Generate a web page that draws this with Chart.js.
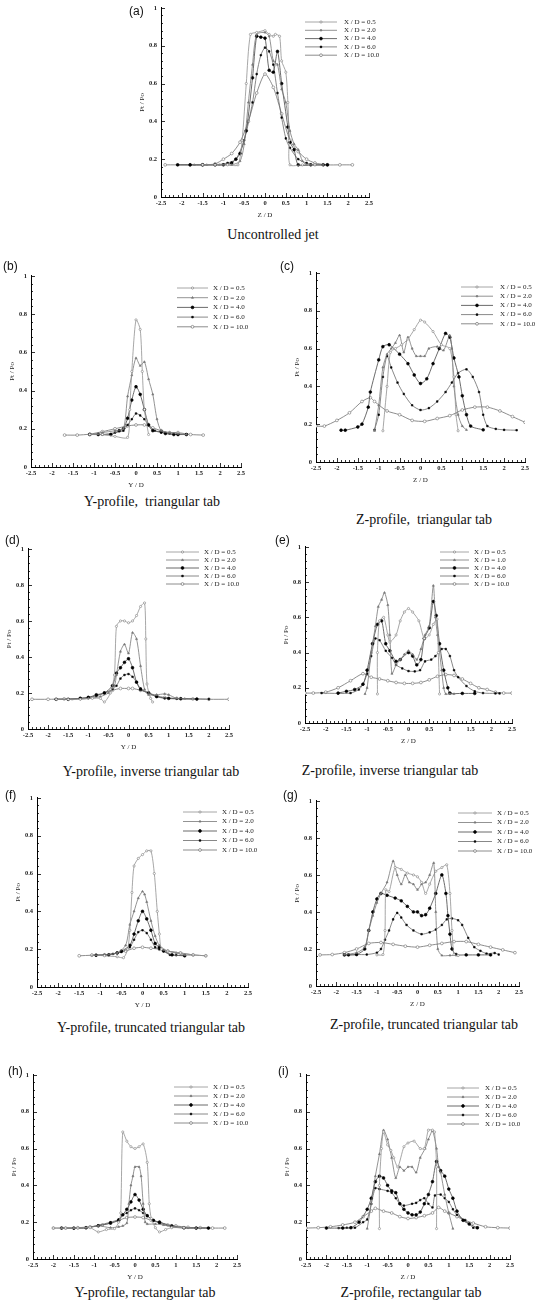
<!DOCTYPE html>
<html lang="en">
<head>
  <meta charset="UTF-8">
  <title>Pt / Po profiles</title>
  <style>
    body { margin: 0; background: #fff; }
    #wrap { position: relative; width: 546px; height: 1309px; overflow: hidden; }
    canvas { position: absolute; }
    .cap { position: absolute; font-family: 'Liberation Serif', serif; font-size: 14px; line-height: 18px; white-space: pre; transform: translateX(-50%); color: #111; }
    .letter { position: absolute; font-family: 'Liberation Sans', Arial, sans-serif; font-size: 12px; line-height: 14px; color: #111; }
  </style>
  <script src="https://cdn.jsdelivr.net/npm/chart.js"></script>
</head>
<body>
  <div id="wrap"></div>

  <script>
    // legend labels (X / D)
    const xdNames = ['0.5', '2.0', '4.0', '6.0', '10.0'];
    const xdNamesE = ['0.5', '1.0', '4.0', '6.0', '10.0'];

    const xTicks = [-2.5, 2.5, 0.5];
    const yTicks = [0, 1, 0.2];

    // (a) uncontrolled jet, Z-profile
    const a05 = [[-1.5,.17],[-1.2,.17],[-0.9,.17],[-0.65,.17],[-0.55,.3],[-0.45,.6],[-0.35,.86],[-0.2,.87],[0,.88],[0.1,.86],[0.2,.85],[0.25,.86],[0.35,.85],[0.4,.72],[0.5,.66],[0.55,.5],[0.58,.3],[0.6,.17],[0.9,.17],[1.2,.17]];
    const a20 = [[-1.7,.17],[-1.4,.17],[-1.1,.17],[-0.8,.17],[-0.6,.19],[-0.5,.28],[-0.4,.5],[-0.3,.7],[-0.2,.86],[0,.87],[0.1,.85],[0.2,.72],[0.3,.7],[0.4,.57],[0.5,.5],[0.6,.35],[0.7,.28],[0.8,.25],[0.9,.19],[1.0,.17],[1.2,.17],[1.4,.17]];
    const a40 = [[-2.1,.17],[-1.8,.17],[-1.5,.17],[-1.2,.17],[-1.0,.17],[-0.8,.18],[-0.7,.2],[-0.6,.23],[-0.45,.35],[-0.3,.63],[-0.2,.85],[-0.1,.845],[0,.84],[0.1,.67],[0.2,.66],[0.3,.77],[0.4,.6],[0.55,.37],[0.6,.29],[0.7,.25],[0.8,.17],[1.1,.17],[1.4,.17],[1.5,.17]];
    const a60 = [[-2.1,.17],[-1.8,.17],[-1.5,.17],[-1.2,.17],[-0.9,.18],[-0.7,.2],[-0.5,.3],[-0.3,.5],[-0.2,.65],[-0.1,.75],[0,.79],[0.1,.77],[0.2,.7],[0.3,.55],[0.4,.42],[0.5,.31],[0.6,.26],[0.8,.2],[1.0,.18],[1.2,.17],[1.5,.17]];
    const a100 = [[-2.4,.17],[-1.8,.17],[-1.5,.17],[-1.2,.175],[-1.0,.2],[-0.8,.23],[-0.6,.29],[-0.4,.4],[-0.2,.55],[0,.65],[0.2,.58],[0.4,.44],[0.6,.3],[0.8,.24],[1.0,.2],[1.2,.18],[1.5,.17],[1.8,.17],[2.1,.17]];

    // (b) triangular tab, Y-profile
    const b05 = [[-1.1,.17],[-0.8,.17],[-0.5,.16],[-0.2,.155],[-0.15,.3],[-0.1,.5],[0,.77],[0.1,.72],[0.15,.5],[0.2,.3],[0.3,.17]];
    const b20 = [[-1.1,.17],[-0.8,.18],[-0.5,.19],[-0.3,.2],[-0.2,.37],[-0.1,.48],[0,.57],[0.1,.53],[0.2,.55],[0.3,.46],[0.4,.38],[0.5,.25],[0.6,.19],[0.8,.18],[1.0,.175],[1.2,.17]];
    const b40 = [[-1.1,.17],[-0.9,.17],[-0.6,.17],[-0.4,.19],[-0.3,.2],[-0.2,.255],[-0.1,.35],[0,.42],[0.1,.38],[0.2,.3],[0.3,.22],[0.4,.19],[0.6,.185],[0.7,.175],[0.9,.17],[1.0,.17],[1.2,.17]];
    const b60 = [[-1.1,.17],[-0.8,.17],[-0.5,.18],[-0.3,.19],[-0.2,.22],[-0.1,.25],[0,.28],[0.1,.27],[0.2,.25],[0.3,.22],[0.45,.19],[0.6,.18],[0.8,.175],[1.0,.17],[1.2,.17]];
    const b100 = [[-1.7,.167],[-1.4,.167],[-1.1,.172],[-0.8,.185],[-0.5,.2],[-0.2,.215],[0,.22],[0.2,.22],[0.4,.205],[0.6,.19],[0.8,.18],[1.0,.18],[1.3,.17],[1.6,.167]];

    // (c) triangular tab, Z-profile
    const c05 = [[-0.9,.165],[-0.8,.4],[-0.72,.58],[-0.6,.6],[-0.45,.62],[-0.3,.65],[-0.15,.7],[0,.75],[0.1,.74],[0.3,.69],[0.5,.62],[0.7,.6],[0.8,.45],[0.85,.25],[0.9,.165]];
    const c20 = [[-1.1,.165],[-1.0,.3],[-0.9,.5],[-0.8,.57],[-0.7,.6],[-0.6,.63],[-0.5,.67],[-0.4,.58],[-0.3,.66],[-0.2,.6],[-0.1,.56],[0,.56],[0.1,.56],[0.2,.6],[0.4,.61],[0.55,.59],[0.7,.67],[0.75,.6],[0.8,.4],[0.9,.25],[1.0,.19],[1.1,.17]];
    const c40 = [[-1.9,.168],[-1.8,.168],[-1.5,.185],[-1.4,.2],[-1.25,.29],[-1.2,.37],[-1.0,.54],[-0.9,.61],[-0.75,.62],[-0.5,.57],[-0.3,.52],[-0.15,.46],[0,.415],[0.15,.44],[0.3,.52],[0.45,.6],[0.6,.68],[0.7,.66],[0.8,.55],[0.92,.45],[1.0,.35],[1.1,.25],[1.2,.19],[1.5,.17]];
    const c60 = [[-1.1,.17],[-1.0,.25],[-0.9,.45],[-0.8,.56],[-0.7,.5],[-0.55,.42],[-0.4,.36],[-0.2,.3],[0,.275],[0.2,.285],[0.4,.32],[0.6,.37],[0.75,.42],[0.9,.47],[1.1,.49],[1.25,.45],[1.4,.37],[1.5,.25],[1.6,.19],[1.8,.175],[2.0,.17],[2.3,.168]];
    const c100 = [[-2.5,.19],[-2.3,.19],[-2.0,.22],[-1.7,.26],[-1.4,.32],[-1.2,.34],[-1.1,.32],[-0.8,.27],[-0.5,.25],[-0.2,.22],[0.1,.215],[0.4,.23],[0.7,.245],[1.0,.275],[1.3,.29],[1.6,.29],[1.9,.27],[2.2,.24],[2.5,.21]];

    // (d) inverse triangular tab, Y-profile
    const d05 = [[-1.8,.165],[-1.5,.165],[-1.2,.165],[-0.9,.17],[-0.7,.17],[-0.6,.15],[-0.45,.2],[-0.35,.3],[-0.3,.57],[-0.2,.6],[-0.1,.6],[0,.59],[0.1,.6],[0.2,.63],[0.3,.68],[0.4,.7],[0.43,.5],[0.46,.25],[0.55,.17],[0.6,.15]];
    const d20 = [[-1.8,.165],[-1.4,.165],[-1.0,.17],[-0.7,.18],[-0.5,.2],[-0.35,.24],[-0.3,.3],[-0.2,.43],[-0.1,.47],[0,.42],[0.1,.535],[0.2,.5],[0.3,.35],[0.4,.22],[0.5,.19],[0.7,.19],[0.9,.195],[1.0,.19],[1.2,.17],[1.4,.168]];
    const d40 = [[-1.8,.165],[-1.5,.165],[-1.2,.17],[-1.0,.175],[-0.8,.19],[-0.6,.2],[-0.4,.24],[-0.3,.31],[-0.2,.34],[-0.1,.37],[0,.39],[0.1,.34],[0.2,.26],[0.3,.22],[0.5,.2],[0.7,.18],[1.0,.17],[1.3,.168],[1.7,.166]];
    const d60 = [[-1.8,.165],[-1.5,.165],[-1.2,.17],[-1.0,.175],[-0.8,.185],[-0.6,.2],[-0.4,.22],[-0.3,.24],[-0.2,.28],[-0.1,.3],[0,.305],[0.1,.29],[0.2,.26],[0.3,.225],[0.5,.2],[0.7,.18],[0.9,.17],[1.2,.168],[1.7,.167],[2.0,.166]];
    const d100 = [[-2.4,.165],[-2.0,.165],[-1.6,.167],[-1.2,.17],[-1.0,.175],[-0.8,.185],[-0.6,.2],[-0.4,.215],[-0.2,.225],[0,.225],[0.1,.225],[0.3,.215],[0.5,.2],[0.7,.185],[0.9,.175],[1.2,.17],[1.6,.167],[2.0,.165],[2.5,.165]];

    // (e) inverse triangular tab, Z-profile
    const e05 = [[-0.75,.165],[-0.75,.4],[-0.7,.58],[-0.6,.6],[-0.5,.5],[-0.45,.46],[-0.3,.5],[-0.2,.58],[-0.1,.63],[0,.65],[0.1,.63],[0.25,.58],[0.38,.48],[0.5,.5],[0.6,.56],[0.69,.59],[0.72,.4],[0.75,.165]];
    const e10 = [[-1.05,.165],[-1.0,.2],[-0.9,.4],[-0.8,.55],[-0.73,.66],[-0.65,.7],[-0.58,.74],[-0.5,.67],[-0.45,.5],[-0.4,.28],[-0.3,.33],[-0.2,.36],[-0.1,.39],[0,.41],[0.1,.39],[0.2,.36],[0.3,.42],[0.4,.5],[0.5,.55],[0.6,.78],[0.65,.6],[0.7,.5],[0.8,.3],[0.85,.2],[0.9,.165],[1.0,.165],[1.1,.165]];
    const e40 = [[-1.7,.17],[-1.5,.18],[-1.3,.19],[-1.1,.22],[-1.0,.3],[-0.87,.45],[-0.75,.56],[-0.65,.58],[-0.55,.45],[-0.45,.41],[-0.3,.35],[-0.2,.36],[0,.4],[0.1,.38],[0.2,.33],[0.3,.36],[0.38,.48],[0.5,.54],[0.6,.69],[0.67,.61],[0.75,.45],[0.85,.3],[0.95,.2],[1.0,.17],[1.3,.168],[1.6,.168]];
    const e60 = [[-2.1,.17],[-1.7,.168],[-1.4,.17],[-1.2,.19],[-1.1,.22],[-1.0,.28],[-0.9,.38],[-0.8,.48],[-0.7,.47],[-0.55,.41],[-0.4,.37],[-0.3,.33],[-0.15,.31],[0,.295],[0.15,.293],[0.28,.3],[0.4,.35],[0.55,.36],[0.65,.38],[0.8,.42],[0.9,.42],[1.0,.38],[1.1,.3],[1.2,.26],[1.4,.21],[1.6,.18],[1.8,.17],[2.1,.168],[2.2,.168]];
    const e100 = [[-2.5,.17],[-2.3,.17],[-2.0,.175],[-1.7,.2],[-1.4,.24],[-1.1,.28],[-0.9,.26],[-0.7,.25],[-0.5,.24],[-0.3,.23],[-0.1,.225],[0.1,.225],[0.3,.23],[0.5,.245],[0.7,.265],[0.9,.275],[1.1,.27],[1.3,.25],[1.5,.225],[1.7,.2],[1.9,.19],[2.1,.175],[2.3,.17],[2.5,.17]];

    // (f) truncated triangular tab, Y-profile
    const f05 = [[-1.2,.17],[-0.9,.165],[-0.6,.16],[-0.45,.155],[-0.35,.2],[-0.3,.3],[-0.25,.5],[-0.2,.64],[-0.1,.68],[0,.7],[0.1,.72],[0.2,.72],[0.28,.6],[0.35,.4],[0.4,.28],[0.45,.2],[0.6,.19],[0.9,.18],[1.2,.17],[1.5,.165]];
    const f20 = [[-1.2,.168],[-0.9,.17],[-0.6,.18],[-0.4,.22],[-0.3,.33],[-0.2,.4],[-0.1,.47],[0,.505],[0.05,.49],[0.1,.45],[0.2,.35],[0.3,.27],[0.4,.22],[0.6,.19],[0.8,.18],[1.0,.17],[1.2,.168]];
    const f40 = [[-1.1,.168],[-0.8,.17],[-0.6,.18],[-0.5,.19],[-0.3,.22],[-0.2,.28],[-0.1,.35],[0,.4],[0.1,.36],[0.2,.3],[0.3,.23],[0.4,.21],[0.5,.19],[0.7,.17],[1.0,.165]];
    const f60 = [[-1.1,.168],[-0.9,.17],[-0.7,.175],[-0.5,.185],[-0.3,.21],[-0.2,.25],[-0.1,.29],[0,.3],[0.1,.285],[0.2,.25],[0.3,.21],[0.4,.2],[0.5,.19],[0.65,.17],[0.8,.168],[1.0,.166]];
    const f100 = [[-1.5,.165],[-1.2,.168],[-0.9,.17],[-0.6,.18],[-0.4,.19],[-0.2,.205],[0,.21],[0.2,.205],[0.4,.2],[0.6,.19],[0.9,.18],[1.2,.17],[1.5,.165]];

    // (g) truncated triangular tab, Z-profile
    const g05 = [[-1.0,.168],[-0.85,.17],[-0.8,.3],[-0.78,.52],[-0.7,.51],[-0.55,.64],[-0.4,.63],[-0.25,.61],[-0.1,.6],[0,.59],[0.1,.56],[0.2,.5],[0.3,.55],[0.45,.62],[0.6,.64],[0.72,.655],[0.8,.5],[0.85,.3],[0.9,.17],[1.0,.165]];
    const g20 = [[-1.8,.17],[-1.5,.18],[-1.3,.21],[-1.2,.3],[-1.1,.38],[-1.0,.45],[-0.9,.5],[-0.75,.56],[-0.6,.675],[-0.5,.6],[-0.4,.55],[-0.3,.6],[-0.2,.56],[-0.1,.55],[0,.52],[0.1,.55],[0.2,.56],[0.3,.6],[0.4,.665],[0.45,.4],[0.5,.2],[0.6,.165],[0.8,.165],[1.0,.165]];
    const g40 = [[-1.8,.168],[-1.7,.168],[-1.5,.17],[-1.3,.2],[-1.2,.3],[-1.1,.4],[-1.0,.47],[-0.9,.5],[-0.75,.49],[-0.55,.475],[-0.4,.46],[-0.25,.43],[-0.1,.4],[0,.4],[0.1,.38],[0.2,.385],[0.3,.42],[0.45,.5],[0.6,.6],[0.7,.5],[0.75,.38],[0.8,.28],[0.85,.2],[0.95,.17],[1.2,.168],[1.5,.168],[1.8,.168]];
    const g60 = [[-1.8,.168],[-1.5,.17],[-1.25,.17],[-1.0,.18],[-0.9,.2],[-0.8,.25],[-0.7,.3],[-0.6,.36],[-0.5,.395],[-0.4,.37],[-0.27,.33],[-0.1,.3],[0.1,.28],[0.3,.29],[0.45,.305],[0.6,.33],[0.72,.36],[0.85,.365],[1.0,.355],[1.1,.33],[1.25,.26],[1.4,.21],[1.55,.19],[1.7,.175],[1.9,.178],[2.0,.17]];
    const g100 = [[-2.4,.168],[-2.1,.17],[-1.8,.18],[-1.5,.2],[-1.2,.23],[-0.9,.235],[-0.6,.225],[-0.3,.215],[0,.21],[0.3,.22],[0.6,.23],[0.9,.24],[1.2,.24],[1.5,.225],[1.8,.21],[2.1,.195],[2.4,.18]];

    // (h) rectangular tab, Y-profile
    const h05 = [[-2.0,.168],[-1.7,.168],[-1.4,.168],[-1.1,.17],[-0.9,.147],[-0.7,.16],[-0.5,.165],[-0.4,.2],[-0.35,.25],[-0.3,.69],[-0.2,.64],[-0.1,.61],[0,.6],[0.1,.61],[0.2,.625],[0.3,.525],[0.35,.3],[0.4,.22],[0.5,.17],[0.6,.147],[0.75,.16],[0.9,.17],[1.2,.17]];
    const h20 = [[-1.8,.168],[-1.5,.168],[-1.2,.17],[-0.9,.18],[-0.6,.17],[-0.4,.175],[-0.3,.18],[-0.2,.195],[-0.15,.3],[-0.1,.4],[-0.05,.45],[0,.5],[0.1,.5],[0.15,.45],[0.2,.3],[0.25,.2],[0.3,.19],[0.5,.19],[0.7,.185],[1.0,.175],[1.2,.17],[1.5,.168]];
    const h40 = [[-1.8,.168],[-1.5,.168],[-1.2,.17],[-0.9,.18],[-0.6,.195],[-0.4,.21],[-0.3,.24],[-0.2,.27],[-0.1,.31],[0,.35],[0.1,.32],[0.2,.27],[0.3,.235],[0.45,.21],[0.6,.2],[0.9,.18],[1.2,.17],[1.5,.168],[1.8,.168]];
    const h60 = [[-1.8,.168],[-1.5,.166],[-1.2,.168],[-0.9,.183],[-0.6,.2],[-0.4,.215],[-0.3,.24],[-0.2,.25],[-0.1,.265],[0,.275],[0.1,.265],[0.2,.25],[0.3,.235],[0.45,.21],[0.6,.195],[0.9,.175],[1.2,.168],[1.5,.168],[1.8,.168]];
    const h100 = [[-2.0,.168],[-1.7,.168],[-1.4,.17],[-1.1,.175],[-0.8,.185],[-0.6,.195],[-0.4,.21],[-0.2,.225],[0,.228],[0.2,.225],[0.4,.21],[0.6,.2],[0.8,.185],[1.0,.18],[1.3,.172],[1.6,.17],[1.9,.168],[2.2,.168]];

    // (i) rectangular tab, Z-profile
    const i05 = [[-0.7,.165],[-0.7,.4],[-0.65,.6],[-0.6,.69],[-0.5,.62],[-0.42,.59],[-0.35,.55],[-0.25,.5],[-0.1,.61],[0,.63],[0.15,.64],[0.3,.6],[0.4,.6],[0.5,.7],[0.6,.7],[0.65,.69],[0.7,.5],[0.7,.165]];
    const i20 = [[-1.0,.165],[-0.9,.3],[-0.8,.45],[-0.7,.57],[-0.6,.7],[-0.5,.65],[-0.4,.55],[-0.3,.44],[-0.2,.5],[-0.1,.48],[0,.5],[0.1,.5],[0.2,.47],[0.3,.55],[0.42,.6],[0.5,.65],[0.6,.695],[0.7,.6],[0.75,.5],[0.8,.47],[0.9,.35],[1.0,.25],[1.1,.165]];
    const i40 = [[-2.0,.168],[-1.6,.168],[-1.4,.17],[-1.2,.2],[-1.0,.27],[-0.9,.33],[-0.8,.42],[-0.7,.45],[-0.6,.44],[-0.5,.4],[-0.4,.37],[-0.3,.36],[-0.2,.3],[-0.1,.27],[0,.25],[0.1,.24],[0.2,.24],[0.3,.255],[0.4,.3],[0.5,.35],[0.6,.42],[0.7,.53],[0.8,.48],[0.9,.45],[1.0,.38],[1.1,.33],[1.2,.26],[1.35,.21],[1.5,.19],[1.7,.17]];
    const i60 = [[-1.7,.168],[-1.5,.17],[-1.3,.17],[-1.1,.2],[-1.0,.215],[-0.9,.3],[-0.8,.385],[-0.7,.38],[-0.5,.37],[-0.4,.36],[-0.3,.33],[-0.2,.3],[-0.1,.29],[0.1,.3],[0.2,.305],[0.3,.32],[0.4,.33],[0.5,.3],[0.6,.28],[0.66,.345],[0.8,.35],[0.9,.33],[1.0,.31],[1.1,.27],[1.2,.24],[1.4,.21],[1.6,.17],[1.7,.168]];
    const i100 = [[-2.5,.168],[-2.2,.17],[-1.9,.175],[-1.6,.185],[-1.3,.2],[-1.1,.23],[-0.9,.26],[-0.8,.275],[-0.6,.26],[-0.4,.25],[-0.2,.23],[0,.22],[0.2,.225],[0.4,.235],[0.6,.25],[0.75,.28],[0.9,.26],[1.0,.25],[1.2,.23],[1.4,.21],[1.6,.195],[1.9,.175],[2.2,.17],[2.5,.168]];

    // line / marker look of the five stations
    const styles = [
      { line: '#909090', w: 0.8, shape: 'circle',   r: 1.1, fill: '#fff', edge: '#808080' },
      { line: '#777',    w: 0.8, shape: 'triangle', r: 1.2, fill: '#777', edge: '#777' },
      { line: '#5a5a5a', w: 0.9, shape: 'circle',   r: 1.4, fill: '#000', edge: '#000' },
      { line: '#6a6a6a', w: 0.8, shape: 'rect',     r: 1.1, fill: '#000', edge: '#000' },
      { line: '#808080', w: 0.9, shape: 'circle',   r: 1.4, fill: '#fff', edge: '#707070' }
    ];

    // where each panel sits on the page (plot box in px, legend, label, caption)
    const panels = [
      { series: [a05, a20, a40, a60, a100], names: xdNames, L: 161, T: 6, W: 208, H: 191, xt: 'Z / D', lx1: 305, lx2: 337, tx: 344, ly: 22, ldy: 8.3, letter: '(a)', letX: 129, letY: 4, cap: 'Uncontrolled jet', capX: 273, capY: 235 },
      { series: [b05, b20, b40, b60, b100], names: xdNames, L: 31, T: 274, W: 210, H: 193, xt: 'Y / D', lx1: 177, lx2: 208, tx: 213, ly: 288, ldy: 9.7, letter: '(b)', letX: 3, letY: 259, cap: 'Y-profile,  triangular tab', capX: 152, capY: 502 },
      { series: [c05, c20, c40, c60, c100], names: xdNames, L: 316, T: 271, W: 209, H: 191, xt: 'Z / D', lx1: 461, lx2: 493, tx: 500, ly: 287, ldy: 9.2, letter: '(c)', letX: 280, letY: 259, cap: 'Z-profile,  triangular tab', capX: 424, capY: 520 },
      { series: [d05, d20, d40, d60, d100], names: xdNames, L: 28, T: 547, W: 201, H: 182, xt: 'Y / D', lx1: 166, lx2: 199, tx: 204, ly: 552, ldy: 8, letter: '(d)', letX: 5, letY: 533, cap: 'Y-profile, inverse triangular tab', capX: 151, capY: 772 },
      { series: [e05, e10, e40, e60, e100], names: xdNamesE, L: 305, T: 545, W: 207, H: 178, xt: 'Z / D', lx1: 440, lx2: 469, tx: 474, ly: 552, ldy: 8, letter: '(e)', letX: 275, letY: 533, cap: 'Z-profile, inverse triangular tab', capX: 390, capY: 771 },
      { series: [f05, f20, f40, f60, f100], names: xdNames, L: 37, T: 796, W: 211, H: 191, xt: 'Y / D', lx1: 183, lx2: 217, tx: 222, ly: 812, ldy: 9.5, letter: '(f)', letX: 5, letY: 788, cap: 'Y-profile, truncated triangular tab', capX: 151, capY: 1028 },
      { series: [g05, g20, g40, g60, g100], names: xdNames, L: 316, T: 799, W: 203, H: 187, xt: 'Z / D', lx1: 458, lx2: 492, tx: 497, ly: 813, ldy: 9.5, letter: '(g)', letX: 283, letY: 788, cap: 'Z-profile, truncated triangular tab', capX: 424, capY: 1025 },
      { series: [h05, h20, h40, h60, h100], names: xdNames, L: 33, T: 1073, W: 204, H: 186, xt: 'Y / D', lx1: 174, lx2: 208, tx: 213, ly: 1087, ldy: 9, letter: '(h)', letX: 8, letY: 1064, cap: 'Y-profile, rectangular tab', capX: 145, capY: 1293 },
      { series: [i05, i20, i40, i60, i100], names: xdNames, L: 306, T: 1073, W: 204, H: 186, xt: 'Z / D', lx1: 447, lx2: 479, tx: 485, ly: 1088, ldy: 9, letter: '(i)', letX: 278, letY: 1064, cap: 'Z-profile, rectangular tab', capX: 411, capY: 1293 }
    ];

    const PAD_L = 30, PAD_T = 6, PAD_R = 26, AX_H = 22;
    const tickFont = { family: 'Liberation Serif', size: 6.5, weight: 'bold' };
    const fmtTick = (v) => String(Number(v.toFixed(1)));

    // minor/major tick marks on the axes + legend inside the plot
    const decoPlugin = {
      id: 'deco',
      afterDraw(chart, args, opts) {
        const ctx = chart.ctx;
        const xs = chart.scales.x, ys = chart.scales.y;
        const area = chart.chartArea;
        ctx.save();
        ctx.strokeStyle = '#000';
        ctx.lineWidth = 0.8;
        ctx.beginPath();
        for (let k = -25; k <= 25; k++) {
          const px = Math.round(xs.getPixelForValue(k / 10)) + 0.5;
          const len = (k % 5 === 0) ? 4 : 2;
          ctx.moveTo(px, area.bottom);
          ctx.lineTo(px, area.bottom - len);
        }
        for (let k = 0; k <= 25; k++) {
          const py = Math.round(ys.getPixelForValue(k * 0.04)) + 0.5;
          const len = (k % 5 === 0) ? 4 : 2;
          ctx.moveTo(area.left, py);
          ctx.lineTo(area.left + len, py);
        }
        ctx.stroke();

        // legend
        const p = opts.panel;
        const ox = p.L - PAD_L, oy = p.T - PAD_T;
        ctx.font = '7px "Liberation Serif"';
        ctx.textBaseline = 'middle';
        chart.data.datasets.forEach((ds, i) => {
          const st = styles[i];
          const y = p.ly + i * p.ldy - oy;
          const x1 = p.lx1 - ox, x2 = p.lx2 - ox;
          ctx.strokeStyle = st.line;
          ctx.lineWidth = st.w;
          ctx.beginPath();
          ctx.moveTo(x1, y);
          ctx.lineTo(x2, y);
          ctx.stroke();
          ctx.fillStyle = st.fill;
          ctx.strokeStyle = st.edge;
          ctx.lineWidth = 0.7;
          Chart.helpers.drawPoint(ctx, {
            pointStyle: st.shape, radius: st.r, rotation: 0, borderWidth: 0.7
          }, (x1 + x2) / 2, y);
          ctx.fillStyle = '#222';
          ctx.fillText(ds.label, p.tx - ox, y);
        });
        ctx.restore();
      }
    };

    const wrap = document.getElementById('wrap');

    panels.forEach((p) => {
      const cv = document.createElement('canvas');
      const cw = p.W + PAD_L + PAD_R, ch = p.H + PAD_T + AX_H;
      cv.width = cw; cv.height = ch;
      cv.style.left = (p.L - PAD_L) + 'px';
      cv.style.top = (p.T - PAD_T) + 'px';
      cv.style.width = cw + 'px';
      cv.style.height = ch + 'px';
      wrap.appendChild(cv);

      const letter = document.createElement('div');
      letter.className = 'letter';
      letter.style.left = p.letX + 'px';
      letter.style.top = p.letY + 'px';
      letter.textContent = p.letter;
      wrap.appendChild(letter);

      const cap = document.createElement('div');
      cap.className = 'cap';
      cap.style.left = p.capX + 'px';
      cap.style.top = (p.capY - 9) + 'px';
      cap.textContent = p.cap;
      wrap.appendChild(cap);

      const datasets = p.series.map((pts, i) => {
        const st = styles[i];
        return {
          label: 'X / D = ' + p.names[i],
          data: pts.map(q => ({ x: q[0], y: q[1] })),
          showLine: true,
          borderColor: st.line,
          borderWidth: st.w,
          tension: 0.25,
          pointStyle: st.shape,
          pointRadius: st.r,
          pointBackgroundColor: st.fill,
          pointBorderColor: st.edge,
          pointBorderWidth: 0.6
        };
      });

      new Chart(cv, {
        type: 'scatter',
        data: { datasets },
        options: {
          responsive: false,
          animation: false,
          devicePixelRatio: 1,
          layout: { padding: { left: 0, top: PAD_T, right: PAD_R, bottom: 0 } },
          plugins: {
            legend: { display: false },
            tooltip: { enabled: false },
            deco: { panel: p }
          },
          scales: {
            x: {
              type: 'linear',
              min: xTicks[0], max: xTicks[1],
              afterFit: (s) => { s.height = AX_H; },
              grid: { display: false, drawTicks: false },
              border: { display: true, color: '#000', width: 1 },
              ticks: { stepSize: xTicks[2], padding: 2, color: '#222', font: tickFont, maxRotation: 0, autoSkip: false, callback: fmtTick },
              title: { display: true, text: p.xt, color: '#222', font: { family: 'Liberation Serif', size: 7 }, padding: 0 }
            },
            y: {
              type: 'linear',
              min: yTicks[0], max: yTicks[1],
              afterFit: (s) => { s.width = PAD_L; },
              grid: { display: false, drawTicks: false },
              border: { display: true, color: '#000', width: 1 },
              ticks: { stepSize: yTicks[2], padding: 4, color: '#222', font: tickFont, callback: fmtTick },
              title: { display: true, text: 'Pt / Po', color: '#222', font: { family: 'Liberation Serif', size: 7 }, padding: { top: 7, bottom: 0 } }
            }
          }
        },
        plugins: [decoPlugin]
      });
    });
  </script>
</body>
</html>
